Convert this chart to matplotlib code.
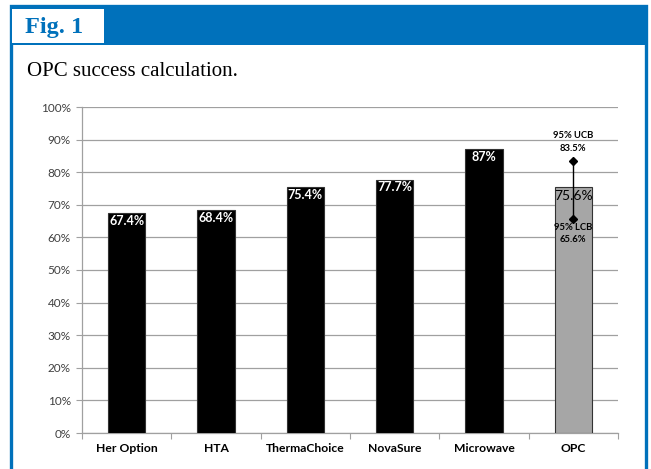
import matplotlib.pyplot as plt
import matplotlib.patches as mpatches

# values
categories = ["Her Option", "HTA", "ThermaChoice", "NovaSure", "Microwave", "OPC"]
success = [67.4, 68.4, 75.4, 77.7, 87.0, 75.6]
labels = ["67.4%", "68.4%", "75.4%", "77.7%", "87%", "75.6%"]
bar_colors = ["black", "black", "black", "black", "black", "#a6a6a6"]
opc_ucb = 83.5
opc_lcb = 65.6

BLUE = "#0071bb"
W, H = 651, 469

fig = plt.figure(figsize=(W / 100, H / 100), dpi=100)


def fx(px):
    return px / W


def fy(py):
    return 1 - py / H


# blue frame (runs off the bottom edge) + header band
fig.patches.append(mpatches.Rectangle((fx(11), fy(490)), fx(635), fy(6) - fy(490),
                                      transform=fig.transFigure, fc="none", ec=BLUE, lw=2.4))
fig.patches.append(mpatches.Rectangle((fx(10), fy(45)), fx(637), fy(6) - fy(45),
                                      transform=fig.transFigure, fc=BLUE, ec="none"))
fig.patches.append(mpatches.Rectangle((fx(12), fy(43)), fx(92), fy(9) - fy(43),
                                      transform=fig.transFigure, fc="white", ec="none"))
fig.text(fx(25), fy(27), "Fig. 1", color=BLUE, fontsize=17.5, fontweight="bold",
         family="Liberation Serif", va="center", ha="left")
fig.text(fx(27), fy(72), "OPC success calculation.", color="black", fontsize=15,
         family="Liberation Serif", va="center", ha="left")

ax = fig.add_axes([fx(82), fy(433), fx(618) - fx(82), fy(107) - fy(433)])
x = list(range(len(categories)))
ax.bar(x, success, width=0.42, color=bar_colors, edgecolor="#333333", linewidth=0.8, zorder=3)

ax.set_xlim(-0.5, len(categories) - 0.5)
ax.set_ylim(0, 100)
ax.set_yticks(range(0, 101, 10))
ax.set_yticklabels([f"{v}%" for v in range(0, 101, 10)], family="Lato", fontsize=8.5, color="#404040")
ax.yaxis.grid(True, color="#a0a0a0", lw=0.9, zorder=0)
ax.tick_params(axis="y", length=4, color="#a0a0a0", pad=4)

# category separators as x ticks
ax.set_xticks([i - 0.5 for i in range(len(categories) + 1)], minor=False)
ax.set_xticklabels([])
ax.tick_params(axis="x", length=4, color="#a0a0a0")
for i, c in enumerate(categories):
    ax.text(i, -4.9, c, ha="center", va="center", fontsize=8.7, fontweight="bold",
            family="Lato", color="black")

for s in ["top", "right"]:
    ax.spines[s].set_visible(False)
for s in ["left", "bottom"]:
    ax.spines[s].set_color("#a0a0a0")
    ax.spines[s].set_linewidth(0.9)

for i, (v, lab) in enumerate(zip(success, labels)):
    if categories[i] == "OPC":
        ax.text(i, v - 3.0, lab, ha="center", va="center", fontsize=10,
                family="Lato", color="black", zorder=4)
    else:
        ax.text(i, v - 2.3, lab, ha="center", va="center", fontsize=9, fontweight="bold",
                family="Lato", color="white", zorder=4)

# OPC confidence bounds
k = categories.index("OPC")
ax.plot([k, k], [opc_lcb, opc_ucb], color="black", lw=1.0, zorder=5)
ax.plot([k, k], [opc_lcb, opc_ucb], ls="none", marker="D", ms=4, color="black", zorder=5)
ax.text(k, opc_ucb + 7.9, "95% UCB", ha="center", va="center", fontsize=6.8,
        fontweight="bold", family="Lato", zorder=5)
ax.text(k, opc_ucb + 3.7, f"{opc_ucb}%", ha="center", va="center", fontsize=6.8,
        fontweight="bold", family="Lato", zorder=5)
ax.text(k, opc_lcb - 2.6, "95% LCB", ha="center", va="center", fontsize=6.8,
        fontweight="bold", family="Lato", zorder=5)
ax.text(k, opc_lcb - 6.3, f"{opc_lcb}%", ha="center", va="center", fontsize=6.8,
        fontweight="bold", family="Lato", zorder=5)

fig.savefig("out.png", dpi=100)
